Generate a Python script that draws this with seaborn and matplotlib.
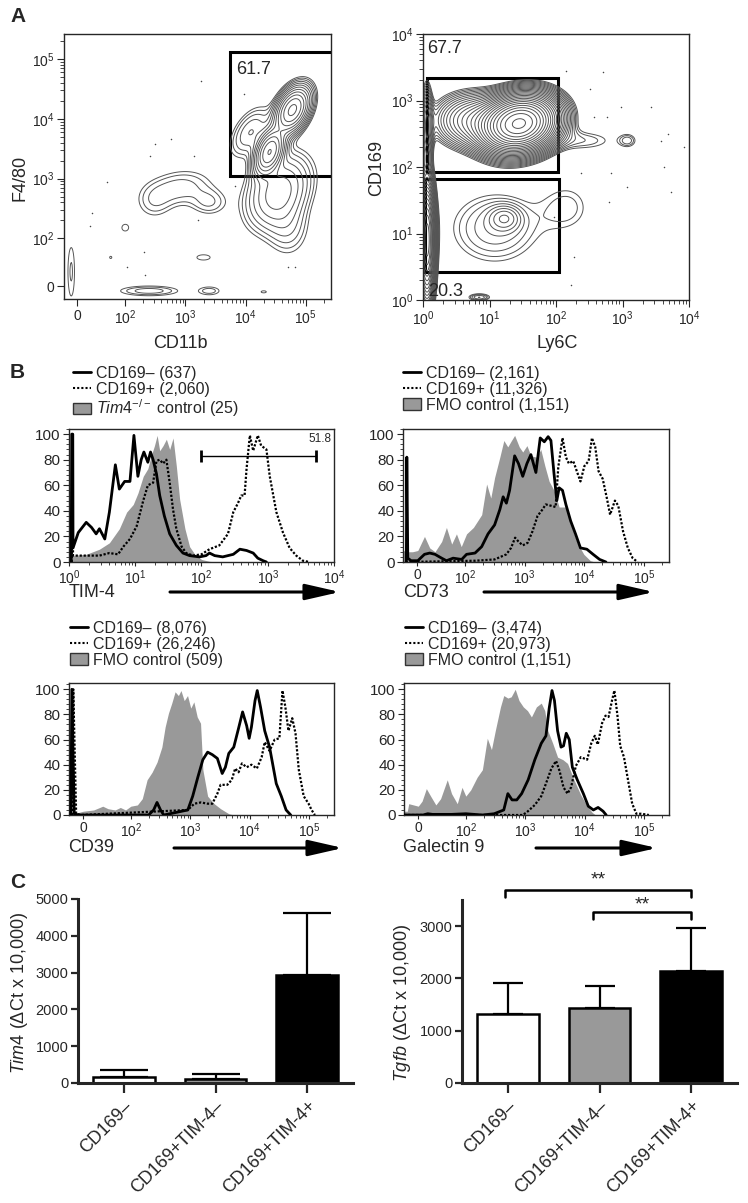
import numpy as np
import pandas as pd
import seaborn as sns
import matplotlib.pyplot as plt
from matplotlib.lines import Line2D
from matplotlib.patches import Patch, Rectangle
from matplotlib.ticker import MultipleLocator, FixedLocator, NullFormatter

sns.set_style('ticks')
plt.rcParams['font.family'] = ['Liberation Sans', 'DejaVu Sans']
plt.rcParams['mathtext.fontset'] = 'custom'
plt.rcParams['mathtext.rm'] = 'Liberation Sans'
plt.rcParams['mathtext.it'] = 'Liberation Sans:italic'
plt.rcParams['mathtext.bf'] = 'Liberation Sans:bold'
plt.rcParams['axes.linewidth'] = 1.0

# ---------------- panel A : populations ----------------
# CD11b / F4/80 (values, spread in decades, tilt, relative density)
a1_cx = [6e4, 2.5e4, 3.5e4, 5e4, 1.2e4, 800, 300, 2500, 100, 70, 2000, 250, 2500, 2e4, -12]
a1_cy = [1.4e4, 2.8e3, 600, 150, 6e3, 700, 400, 400, 150, 60, 60, -10, -10, -12, 30]
a1_sx = [0.15, 0.13, 0.3, 0.22, 0.2, 0.35, 0.2, 0.2, 0.12, 0.06, 0.25, 0.35, 0.15, 0.1, 0.06]
a1_sy = [0.2, 0.2, 0.35, 0.3, 0.25, 0.2, 0.2, 0.15, 0.12, 0.06, 0.1, 0.06, 0.06, 0.04, 0.45]
a1_rho = [0.4, 0.4, 0.3, 0.0, 0.5, 0.2, 0.0, 0.0, 0.0, 0.0, 0.0, 0.0, 0.0, 0.0, 0.0]
a1_w = [1.0, 0.9, 0.2, 0.05, 0.08, 0.05, 0.03, 0.04, 0.022, 0.021, 0.022, 0.05, 0.035, 0.022, 0.03]
a1_dots_x = [1820, 9300, 580, 310, 260, 1400, 62, 1620, 205, 107, 215, 50000, 65000, 31, 6700, 26]
a1_dots_y = [42700, 26400, 4500, 3800, 2350, 2350, 890, 204, 71, 39, 23, 39, 39, 264, 740, 158]
a1_gate = [5500, 1090, 129000]
a1_pct = '61.7'

# Ly6C / CD169
a2_cx = [28, 6, 1.15, 1.15, 17, 12, 250, 1200, 150, 7]
a2_cy = [450, 500, 400, 8, 17, 12, 250, 250, 25, 1.1]
a2_sx = [0.28, 0.32, 0.05, 0.06, 0.15, 0.5, 0.4, 0.1, 0.3, 0.12]
a2_sy = [0.21, 0.22, 0.35, 0.45, 0.12, 0.4, 0.12, 0.08, 0.3, 0.04]
a2_rho = [0.15, 0.0, 0.0, 0.0, 0.0, 0.0, 0.0, 0.0, 0.0, 0.0]
a2_w = [1.0, 0.08, 0.05, 0.5, 0.016, 0.015, 0.01, 0.01, 0.009, 0.015]
a2_dots_x = [140, 517, 330, 940, 370, 590, 3800, 4800, 8500, 4250, 670, 1180, 5400, 235, 630, 186, 166, 2700, 93]
a2_dots_y = [2800, 2660, 1500, 790, 560, 560, 250, 316, 200, 100, 80, 50, 42, 80, 30, 4.5, 1.7, 800, 18]
a2_gate_hi = [1.15, 107, 84, 2190]
a2_gate_lo = [1.08, 110, 2.66, 67]
a2_pct = ['67.7', '20.3']

# ---------------- panel B : histograms (% of max) ----------------
tim4_neg_x = [1.08, 1.10, 1.14, 1.15, 1.38, 1.82, 2.19, 2.57, 2.88, 3.47, 4.07, 5.01, 5.75, 6.92, 8.32, 9.55,
              10.96, 12.3, 13.5, 15.5, 17.0, 18.6, 20.9, 23.4, 27.5, 33.1, 41.7, 52.5, 66.1, 93.3, 117, 132,
              158, 209, 302, 380, 479, 603, 708, 851, 955]
tim4_neg_y = [0, 100, 100, 11, 23, 31, 27, 22, 26, 18, 39, 76, 57, 63, 63, 99, 67, 80, 86, 78, 86, 80, 69, 52,
              36, 22, 13, 7, 5, 4, 5, 7, 5, 4, 6, 10, 9, 7, 3, 1, 0]
tim4_pos_x = [1.10, 1.12, 1.15, 1.82, 2.88, 4.07, 5.5, 6.61, 8.32, 10.5, 13.2, 15.5, 18.6, 20.9, 23.4, 26.3,
              29.5, 33.1, 37.2, 41.7, 50.1, 58.9, 74.1, 100, 132, 186, 251, 302, 355, 398, 447, 479, 537,
              603, 708, 794, 955, 1072, 1349, 1698, 2138, 2692, 3388, 4266]
tim4_pos_y = [0, 100, 5, 5, 5, 7, 6, 12, 18, 28, 48, 60, 62, 79, 80, 77, 80, 62, 41, 26, 12, 7, 5, 6, 10, 13,
              22, 39, 46, 52, 52, 73, 99, 87, 99, 91, 88, 67, 39, 23, 11, 5, 1, 0]
tim4_ctl_x = [1.0, 1.82, 2.88, 4.07, 5.75, 7.41, 9.33, 11.0, 13.2, 15.5, 17.4, 19.5, 21.4, 23.4, 26.3, 29.5,
              33.1, 37.2, 41.7, 46.8, 56.2, 66.1, 79.4, 100, 132, 186]
tim4_ctl_y = [5, 6, 10, 15, 26, 39, 45, 54, 67, 73, 83, 91, 99, 87, 91, 96, 88, 97, 75, 49, 26, 12, 6, 2, 0.5, 0]
tim4_gate = [100, 5400, 83]
tim4_pct = '51.8'

cd73_neg_x = [-23, -22, -20, -13, 1, 15, 26, 37, 51, 61, 75, 93, 106, 147, 190, 243, 313, 383, 435, 493, 558,
              678, 786, 927, 1090, 1270, 1540, 1820, 2130, 2470, 2750, 3100, 3450, 3780, 4300, 4900, 5900,
              7100, 8600, 11000, 14000, 18000, 23000]
cd73_neg_y = [0, 82, 3, 1, 1, 6, 7, 6, 3, 1, 3, 2, 6, 7, 12, 22, 29, 41, 51, 46, 56, 83, 77, 67, 77, 84, 70,
              97, 94, 98, 95, 69, 48, 58, 56, 45, 32, 22, 11, 10, 6, 2, 0]
cd73_pos_x = [-25, 147, 313, 493, 590, 690, 786, 927, 1120, 1350, 1640, 1980, 2250, 2750, 3300, 3650, 4300,
              4900, 5500, 6500, 7600, 8600, 10000, 11800, 13400, 15200, 17300, 20300, 23800, 27000, 32500,
              37000, 44500, 53500, 64500, 78000]
cd73_pos_y = [0, 1, 2, 6, 11, 19, 16, 13, 15, 24, 36, 41, 45, 44, 43, 74, 97, 82, 77, 79, 70, 63, 75, 79, 97,
              90, 71, 65, 50, 37, 48, 44, 24, 11, 3, 0]
cd73_ctl_x = [-30, -20, -10, 1, 15, 26, 37, 51, 61, 72, 82, 92, 106, 138, 190, 230, 270, 313, 383, 447, 520,
              600, 678, 810, 927, 1090, 1270, 1580, 1860, 2180, 2570, 3100, 3780, 4900, 5900, 7600, 9800,
              12600, 15000]
cd73_ctl_y = [9, 8, 8, 9, 20, 11, 8, 16, 27, 14, 22, 12, 22, 27, 37, 61, 50, 66, 82, 95, 90, 95, 99, 90, 86,
              91, 83, 82, 88, 75, 63, 56, 43, 43, 30, 15, 6, 1, 0]

cd39_neg_x = [-26, -24, -19, -10, 200, 242, 276, 316, 358, 910, 1100, 1340, 1630, 1960, 2350, 2860, 3450,
              3900, 4450, 5400, 6500, 7600, 8900, 9800, 10700, 12300, 13400, 15200, 17900, 21600, 28000,
              34000, 41000, 49000]
cd39_neg_y = [0, 100, 1, 0, 0, 4, 10, 4, 0, 4, 15, 30, 44, 50, 48, 45, 33, 38, 49, 54, 69, 82, 71, 61, 70, 91,
              99, 86, 67, 54, 25, 15, 4, 0]
cd39_pos_x = [-23, -21, -15, -5, 910, 1170, 1510, 1960, 2350, 2860, 3240, 4200, 5000, 5700, 6500, 7400, 8900,
              10700, 13200, 15900, 17900, 21600, 26300, 31600, 35600, 39800, 44900, 52000, 59000, 67000,
              81000, 98000, 110000, 125000]
cd39_pos_y = [0, 100, 1, 0, 4, 9, 10, 9, 9, 17, 24, 24, 28, 37, 34, 41, 38, 40, 37, 46, 58, 51, 60, 61, 99, 86,
              67, 77, 65, 36, 15, 9, 4, 0]
cd39_ctl_x = [-30, 0, 22, 41, 52, 67, 78, 89, 100, 129, 156, 188, 228, 276, 333, 378, 430, 489, 556, 632, 698,
              792, 900, 1020, 1150, 1310, 1490, 1630, 1960, 2520, 3240, 4450, 5400]
cd39_ctl_y = [0, 3, 4, 7, 5, 4, 6, 4, 7, 8, 13, 28, 34, 42, 54, 70, 81, 89, 98, 95, 99, 91, 95, 85, 90, 78, 73,
              36, 15, 9, 5, 1, 0]

gal9_neg_x = [-30, 10, 20, 30, 70, 100, 190, 300, 435, 510, 600, 720, 870, 1120, 1450, 1860, 2230, 2530, 2820,
              3100, 3500, 4000, 4400, 4900, 5500, 6200, 7500, 9500, 11500, 14000, 16800, 20400, 23000]
gal9_neg_y = [0, 0, 1, 0.5, 0.5, 1, 0, 1, 4, 17, 12, 12, 17, 28, 44, 57, 63, 85, 99, 91, 67, 54, 55, 65, 60, 38,
              28, 17, 7, 4, 6, 3, 0]
gal9_pos_x = [-30, 900, 1050, 1450, 1860, 2230, 2750, 3300, 3780, 4400, 5150, 5900, 7100, 8600, 11000, 12900,
              14800, 16600, 19600, 22400, 25200, 28800, 31600, 35600, 39600, 45800, 53500, 63000, 74000,
              89000, 105000, 120000]
gal9_pos_y = [0, 0, 2, 8, 15, 25, 37, 43, 35, 22, 17, 22, 39, 46, 44, 57, 63, 56, 73, 79, 78, 91, 99, 79, 55,
              46, 28, 9, 1, 1, 0.5, 0]
gal9_ctl_x = [-30, -23, -20, -10, 0, 8, 17, 26, 37, 47, 61, 70, 82, 92, 100, 121, 155, 190, 230, 270, 313, 383,
              435, 510, 580, 678, 786, 927, 1090, 1270, 1540, 1860, 2130, 2400, 2900, 3500, 4300, 5150, 6600,
              8600, 11000, 13400, 15200]
gal9_ctl_y = [3, 3, 9, 8, 7, 11, 21, 15, 8, 13, 28, 17, 9, 22, 15, 20, 30, 36, 61, 52, 67, 86, 95, 93, 94, 100,
              91, 86, 83, 78, 86, 89, 83, 67, 57, 46, 44, 41, 28, 16, 7, 2, 0]

legend_tim4 = ['CD169– (637)', 'CD169+ (2,060)', r'$\it{Tim4}^{-/-}$ control (25)']
legend_cd73 = ['CD169– (2,161)', 'CD169+ (11,326)', 'FMO control (1,151)']
legend_cd39 = ['CD169– (8,076)', 'CD169+ (26,246)', 'FMO control (509)']
legend_gal9 = ['CD169– (3,474)', 'CD169+ (20,973)', 'FMO control (1,151)']

# ---------------- panel C : qPCR ----------------
c_groups = ['CD169–', 'CD169+TIM-4–', 'CD169+TIM-4+']
tim4_mean = [165, 110, 2925]
tim4_sd = [200, 135, 1685]
tgfb_mean = [1325, 1435, 2150]
tgfb_sd = [585, 425, 805]
bar_colors = ['white', '#999999', 'black']

W, H = 748, 1203
fig = plt.figure(figsize=(W / 100, H / 100), dpi=100)


def px_axes(l, t, r, b):
    return fig.add_axes([l / W, 1 - b / H, (r - l) / W, (b - t) / H])


def ftext(x, y, s, **kw):
    return fig.text(x / W, 1 - y / H, s, **kw)


def sl_fwd(v):
    # symlog position in decades (linthresh 100, linear part = 0.8 decade)
    v = np.asarray(v, float)
    a = np.abs(v)
    return np.where(a <= 100, v / 100 * 0.8, np.sign(v) * (0.8 + np.log10(np.maximum(a, 100) / 100)))


def sl_inv(u):
    u = np.asarray(u, float)
    a = np.abs(u)
    return np.where(a <= 0.8, u / 0.8 * 100, np.sign(u) * 100 * 10 ** (np.maximum(a, 0.8) - 0.8))


def mixture(U, V, cu, cv, su, sv, rho, w):
    Z = np.zeros_like(U)
    for i in range(len(w)):
        du = (U - cu[i]) / su[i]
        dv = (V - cv[i]) / sv[i]
        q = (du ** 2 - 2 * rho[i] * du * dv + dv ** 2) / (1 - rho[i] ** 2)
        Z += w[i] * np.exp(-0.5 * q)
    return Z


sym_ticks = [0, 1e2, 1e3, 1e4, 1e5]
sym_labels = ['0', r'$10^2$', r'$10^3$', r'$10^4$', r'$10^5$']
sym_minor = [k * 10 ** d for d in range(2, 6) for k in range(2, 10)]

# ---------------- A left ----------------
ax = px_axes(64, 34, 331, 299)
ax.set_xscale('symlog', linthresh=100, linscale=0.72)
ax.set_yscale('symlog', linthresh=100, linscale=0.72)
ax.set_xlim(-27, 262144)
ax.set_ylim(-27, 262144)
U, V = np.meshgrid(np.linspace(sl_fwd(-27), sl_fwd(262144), 400), np.linspace(sl_fwd(-27), sl_fwd(262144), 400))
Z = mixture(U, V, sl_fwd(a1_cx), sl_fwd(a1_cy), a1_sx, a1_sy, a1_rho, a1_w)
ax.contour(sl_inv(U), sl_inv(V), Z, levels=np.geomspace(0.02, 0.9, 12), colors='#555555', linewidths=0.7)
ax.scatter(a1_dots_x, a1_dots_y, s=1.2, color='#444444', lw=0)
ax.add_patch(Rectangle((a1_gate[0], a1_gate[1]), 1e6, a1_gate[2] - a1_gate[1], fill=False, lw=2.2, ec='k'))
ax.text(a1_gate[0] * 1.25, 68000, a1_pct, fontsize=13, va='center')
for axis in (ax.xaxis, ax.yaxis):
    axis.set_major_locator(FixedLocator(sym_ticks))
    axis.set_minor_locator(FixedLocator(sym_minor))
    axis.set_minor_formatter(NullFormatter())
ax.set_xticklabels(sym_labels)
ax.set_yticklabels(sym_labels)
ax.tick_params(which='major', length=5, labelsize=10, pad=2)
ax.tick_params(which='minor', length=3)
ftext(20, 178, 'F4/80', fontsize=13, rotation=90, ha='center', va='center')
ftext(180, 343, 'CD11b', fontsize=13, ha='center', va='center')

# ---------------- A right ----------------
ax = px_axes(423, 34, 689, 300)
ax.set_xscale('log')
ax.set_yscale('log')
ax.set_xlim(1, 1e4)
ax.set_ylim(1, 1e4)
U, V = np.meshgrid(np.linspace(0, 4, 400), np.linspace(0, 4, 400))
Z = mixture(U, V, np.log10(a2_cx), np.log10(a2_cy), a2_sx, a2_sy, a2_rho, a2_w)
ax.contour(10 ** U, 10 ** V, Z, levels=np.geomspace(0.007, 0.95, 26), colors='#555555', linewidths=0.7)
ax.scatter(a2_dots_x, a2_dots_y, s=1.2, color='#444444', lw=0)
for g in (a2_gate_hi, a2_gate_lo):
    ax.add_patch(Rectangle((g[0], g[2]), g[1] - g[0], g[3] - g[2], fill=False, lw=2.2, ec='k'))
ax.text(1.15, 5950, a2_pct[0], fontsize=13, va='center')
ax.text(1.2, 1.33, a2_pct[1], fontsize=13, va='center')
ax.tick_params(which='major', length=5, labelsize=10, pad=2)
ax.tick_params(which='minor', length=3)
ftext(377, 168, 'CD169', fontsize=13, rotation=90, ha='center', va='center')
ftext(557, 343, 'Ly6C', fontsize=13, ha='center', va='center')

# ---------------- B ----------------
handles = [Line2D([], [], color='k', lw=2), Line2D([], [], color='k', lw=1.5, ls=(0, (1, 1))),
           Patch(facecolor='#999999', edgecolor='#333333', lw=1)]

hists = [
    (69, 429, 334, 562, 'log', tim4_neg_x, tim4_neg_y, tim4_pos_x, tim4_pos_y, tim4_ctl_x, tim4_ctl_y,
     legend_tim4, 'TIM-4', (73, 366), (69, 592), (170, 340)),
    (403, 429, 669, 562, 'sym', cd73_neg_x, cd73_neg_y, cd73_pos_x, cd73_pos_y, cd73_ctl_x, cd73_ctl_y,
     legend_cd73, 'CD73', (403, 366), (403, 592), (484, 654)),
    (69, 683, 334, 815, 'sym', cd39_neg_x, cd39_neg_y, cd39_pos_x, cd39_pos_y, cd39_ctl_x, cd39_ctl_y,
     legend_cd39, 'CD39', (70, 621), (68, 848), (174, 343)),
    (404, 683, 669, 815, 'sym', gal9_neg_x, gal9_neg_y, gal9_pos_x, gal9_pos_y, gal9_ctl_x, gal9_ctl_y,
     legend_gal9, 'Galectin 9', (405, 621), (403, 848), (536, 657)),
]

for (l, t, r, b, kind, nx, ny, px, py, cx, cy, labels, xlab, leg_xy, lab_xy, arr) in hists:
    ax = px_axes(l, t, r, b)
    if kind == 'log':
        ax.set_xscale('log')
        ax.set_xlim(1, 1e4)
    else:
        ax.set_xscale('symlog', linthresh=100, linscale=0.72)
        ax.set_xlim(-30, 262144)
        ax.xaxis.set_major_locator(FixedLocator(sym_ticks))
        ax.xaxis.set_minor_locator(FixedLocator(sym_minor))
        ax.xaxis.set_minor_formatter(NullFormatter())
        ax.set_xticklabels(sym_labels)
    ax.set_ylim(0, 104 if t < 600 else 105)
    ax.fill_between(cx, cy, 0, color='#999999', lw=0, zorder=1)
    sns.lineplot(x=nx, y=ny, ax=ax, color='k', lw=2, sort=False, estimator=None, zorder=3)
    sns.lineplot(x=px, y=py, ax=ax, color='k', lw=1.6, ls=(0, (1, 0.8)), sort=False, estimator=None, zorder=3)
    ax.yaxis.set_major_locator(MultipleLocator(20))
    ax.yaxis.set_minor_locator(MultipleLocator(4))
    ax.tick_params(axis='y', which='major', length=4, labelsize=11, pad=2)
    ax.tick_params(axis='x', which='major', length=3, labelsize=10, pad=1.5)
    ax.tick_params(which='minor', length=2)
    ax.set_xlabel('')
    ax.set_ylabel('')
    if kind == 'log':
        ax.plot([tim4_gate[0], tim4_gate[1]], [tim4_gate[2], tim4_gate[2]], color='k', lw=1,
                marker='|', ms=8, mew=2)
        ax.text(9100, 96, tim4_pct, fontsize=8.5, ha='right', va='center')
    ax.legend(handles, labels, loc='upper left', bbox_to_anchor=(leg_xy[0] / W, 1 - leg_xy[1] / H),
              bbox_transform=fig.transFigure, frameon=False, fontsize=11.5, borderpad=0, borderaxespad=0,
              handlelength=1.1, handletextpad=0.35, labelspacing=0.05, handleheight=0.7)
    ftext(lab_xy[0], lab_xy[1], xlab, fontsize=13, ha='left', va='center')
    ax.annotate('', xy=(arr[1], H - lab_xy[1]), xytext=(arr[0], H - lab_xy[1]), xycoords='figure pixels',
                textcoords='figure pixels',
                arrowprops=dict(arrowstyle='-|>,head_length=1.75,head_width=0.4', lw=2.2, color='k',
                                shrinkA=0, shrinkB=0, mutation_scale=12))

# ---------------- C ----------------
bars = [
    (78, 899, 353, 1083, tim4_mean, tim4_sd, 5000, 1000, r'$\it{Tim4}$ (ΔCt x 10,000)', 20, 993, 17),
    (462, 900, 737, 1083, tgfb_mean, tgfb_sd, 3500, 1000, r'$\it{Tgfb}$ (ΔCt x 10,000)', 402, 1003, 11),
]
for (l, t, r, b, mean, sd, top, step, ylab, ylx, yly, cap) in bars:
    ax = px_axes(l, t, r, b)
    df = pd.DataFrame({'group': c_groups, 'value': mean})
    sns.barplot(data=df, x='group', y='value', hue='group', palette=bar_colors, edgecolor='k', linewidth=1.8,
                width=0.67, errorbar=None, legend=False, ax=ax, zorder=2)
    ax.errorbar(range(3), mean, yerr=[np.zeros(3), sd], fmt='none', ecolor='k', elinewidth=1.6, capsize=cap,
                capthick=1.6, zorder=1)
    ax.set_xlim(-0.5, 2.5)
    ax.set_ylim(0, top)
    ax.set_yticks(np.arange(0, 3001 if top < 4000 else 5001, step))
    for s in ('top', 'right'):
        ax.spines[s].set_visible(False)
    for s in ('left', 'bottom'):
        ax.spines[s].set_linewidth(2.2)
    ax.tick_params(axis='y', length=5, width=1.6, labelsize=10.5, pad=2)
    ax.tick_params(axis='x', length=7, width=1.6, labelsize=13)
    ax.set_xticks(range(3))
    ax.set_xticklabels(c_groups, rotation=45, ha='right', rotation_mode='anchor')
    ax.set_xlabel('')
    ax.set_ylabel('')
    ftext(ylx, yly, ylab, fontsize=13, rotation=90, ha='center', va='center')

# significance brackets on Tgfb panel
for x0, x1, yb, ys in [(-0.03, 2.0, 3690, 3890), (0.93, 2.0, 3275, 3410)]:
    ax.plot([x0, x0, x1, x1], [yb - 130, yb, yb, yb - 130], color='k', lw=1.8, clip_on=False)
    ax.text((x0 + x1) / 2, ys, '**', ha='center', va='center', fontsize=14)

ftext(10, 17, 'A', fontsize=15, fontweight='bold', va='center')
ftext(10, 373, 'B', fontsize=15, fontweight='bold', va='center')
ftext(10, 883, 'C', fontsize=15, fontweight='bold', va='center')

fig.savefig('out.png', dpi=100)
